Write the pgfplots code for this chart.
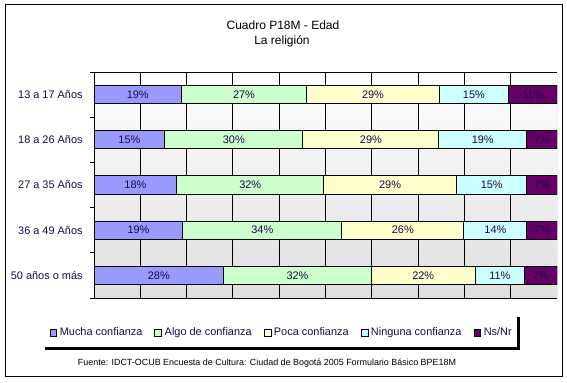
\documentclass[border=0pt]{standalone}
\usepackage{pgfplots}
\pgfplotsset{compat=1.18}
\usepackage{pgfplotstable}
\usepackage{fontspec}
\setmainfont{Liberation Sans}
\definecolor{cMucha}{HTML}{9999FF}
\definecolor{cAlgo}{HTML}{CCFFCC}
\definecolor{cPoca}{HTML}{FFFFCC}
\definecolor{cNing}{HTML}{CCFFFF}
\definecolor{cNs}{HTML}{660066}
\definecolor{txt}{HTML}{1A0A4A}
\pgfplotstableread{
y mucha algo poca ning ns
0 18.9 27.0 28.7 14.9 10.6
1 15.3 29.8 29.4 18.9 6.7
2 17.9 31.7 28.7 15.2 6.6
3 19.2 34.3 26.4 13.6 6.6
4 28.0 31.9 22.4 10.7 7.1
}\datatable
\pgfplotstablecreatecol[create col/expr={\thisrow{mucha}/2}]{c1}\datatable
\pgfplotstablecreatecol[create col/expr={\thisrow{mucha}+\thisrow{algo}/2}]{c2}\datatable
\pgfplotstablecreatecol[create col/expr={\thisrow{mucha}+\thisrow{algo}+\thisrow{poca}/2}]{c3}\datatable
\pgfplotstablecreatecol[create col/expr={\thisrow{mucha}+\thisrow{algo}+\thisrow{poca}+\thisrow{ning}/2}]{c4}\datatable
\pgfplotstablecreatecol[create col/expr={\thisrow{mucha}+\thisrow{algo}+\thisrow{poca}+\thisrow{ning}+\thisrow{ns}/2}]{c5}\datatable
\pgfplotsset{
  common/.style={
    at={(70.5pt,63pt)}, anchor=south west,
    scale only axis, width=347.25pt, height=169.5pt,
    xmin=0, xmax=100, ymin=-0.5, ymax=4.5, y dir=reverse,
  },
  lbl/.style={
    only marks, mark=none, point meta=explicit,
    nodes near coords={\pgfmathprintnumber[fixed,precision=0,assume math mode=true]{\pgfplotspointmeta}\%},
    nodes near coords style={anchor=center, inner sep=0pt, font=\fontsize{8.2}{9}\selectfont, text=txt}
  }
}
\begin{document}
\begin{tikzpicture}[x=0.75pt,y=0.75pt]
\useasboundingbox (0,0) rectangle (567,382);
\draw[black, line width=0.75pt] (5,6) rectangle (562,377);
\node[font=\fontsize{9}{10}\selectfont] at (283,357) {Cuadro P18M - Edad};
\node[font=\fontsize{9}{10}\selectfont] at (282,341) {La religión};
\begin{axis}[
  common,
  xbar stacked, bar width=0.4,
  axis background/.style={shade, top color=white, bottom color=gray!25},
  axis line style={draw=none},
  xtick={0,10,...,90}, xticklabels={}, xtick style={draw=none},
  xmajorgrids, major x grid style={black, line width=0.75pt},
  ytick={0,...,4},
  yticklabels={13 a 17 Años, 18 a 26 Años, 27 a 35 Años, 36 a 49 Años, 50 años o más},
  yticklabel style={font=\fontsize{8.2}{9}\selectfont, text=txt, xshift=-5pt},
  minor ytick={-0.5,0.5,...,4.5},
  major tick length=0pt, minor tick length=3pt, tick align=outside,
  ytick pos=left,
  minor y tick style={black, line width=0.75pt},
  every axis plot/.append style={draw=black, line width=0.75pt},
  legend columns=5,
  legend style={at={(axis description cs:0.406,-0.155)}, anchor=center, draw=none, fill=none,
    font=\fontsize{8.2}{9}\selectfont, text=txt,
    /tikz/every even column/.append style={column sep=7pt}},
  legend image code/.code={\draw[#1,draw=black,line width=0.5pt] (0pt,-2.6pt) rectangle (5.2pt,2.6pt);},
]
\addplot[fill=cMucha] table[x=mucha, y=y] {\datatable};
\addplot[fill=cAlgo] table[x=algo, y=y] {\datatable};
\addplot[fill=cPoca] table[x=poca, y=y] {\datatable};
\addplot[fill=cNing] table[x=ning, y=y] {\datatable};
\addplot[fill=cNs] table[x=ns, y=y] {\datatable};
\legend{Mucha confianza, Algo de confianza, Poca confianza, Ninguna confianza, Ns/Nr}
\draw[black, line width=0.75pt] (axis cs:0,-0.5) -- (axis cs:100,-0.5);
\draw[gray, line width=0.75pt] (axis cs:100,-0.5) -- (axis cs:100,4.5);
\draw[black, line width=0.75pt] (axis cs:0,-0.5) -- (axis cs:0,4.5) -- (axis cs:100,4.5);
\end{axis}
\begin{axis}[common, hide axis, clip=false]
\addplot[lbl] table[x=c1, y=y, meta=mucha] {\datatable};
\addplot[lbl] table[x=c2, y=y, meta=algo] {\datatable};
\addplot[lbl] table[x=c3, y=y, meta=poca] {\datatable};
\addplot[lbl] table[x=c4, y=y, meta=ning] {\datatable};
\addplot[lbl] table[x=c5, y=y, meta=ns] {\datatable};
\end{axis}
\draw[black, line width=2.25pt] (45,34) -- (518,34) -- (518,65);
\node[font=\fontsize{6.7}{8}\selectfont] at (267,19) {Fuente: IDCT-OCUB Encuesta de Cultura: Ciudad de Bogotá 2005 Formulario Básico BPE18M};
\end{tikzpicture}
\end{document}
